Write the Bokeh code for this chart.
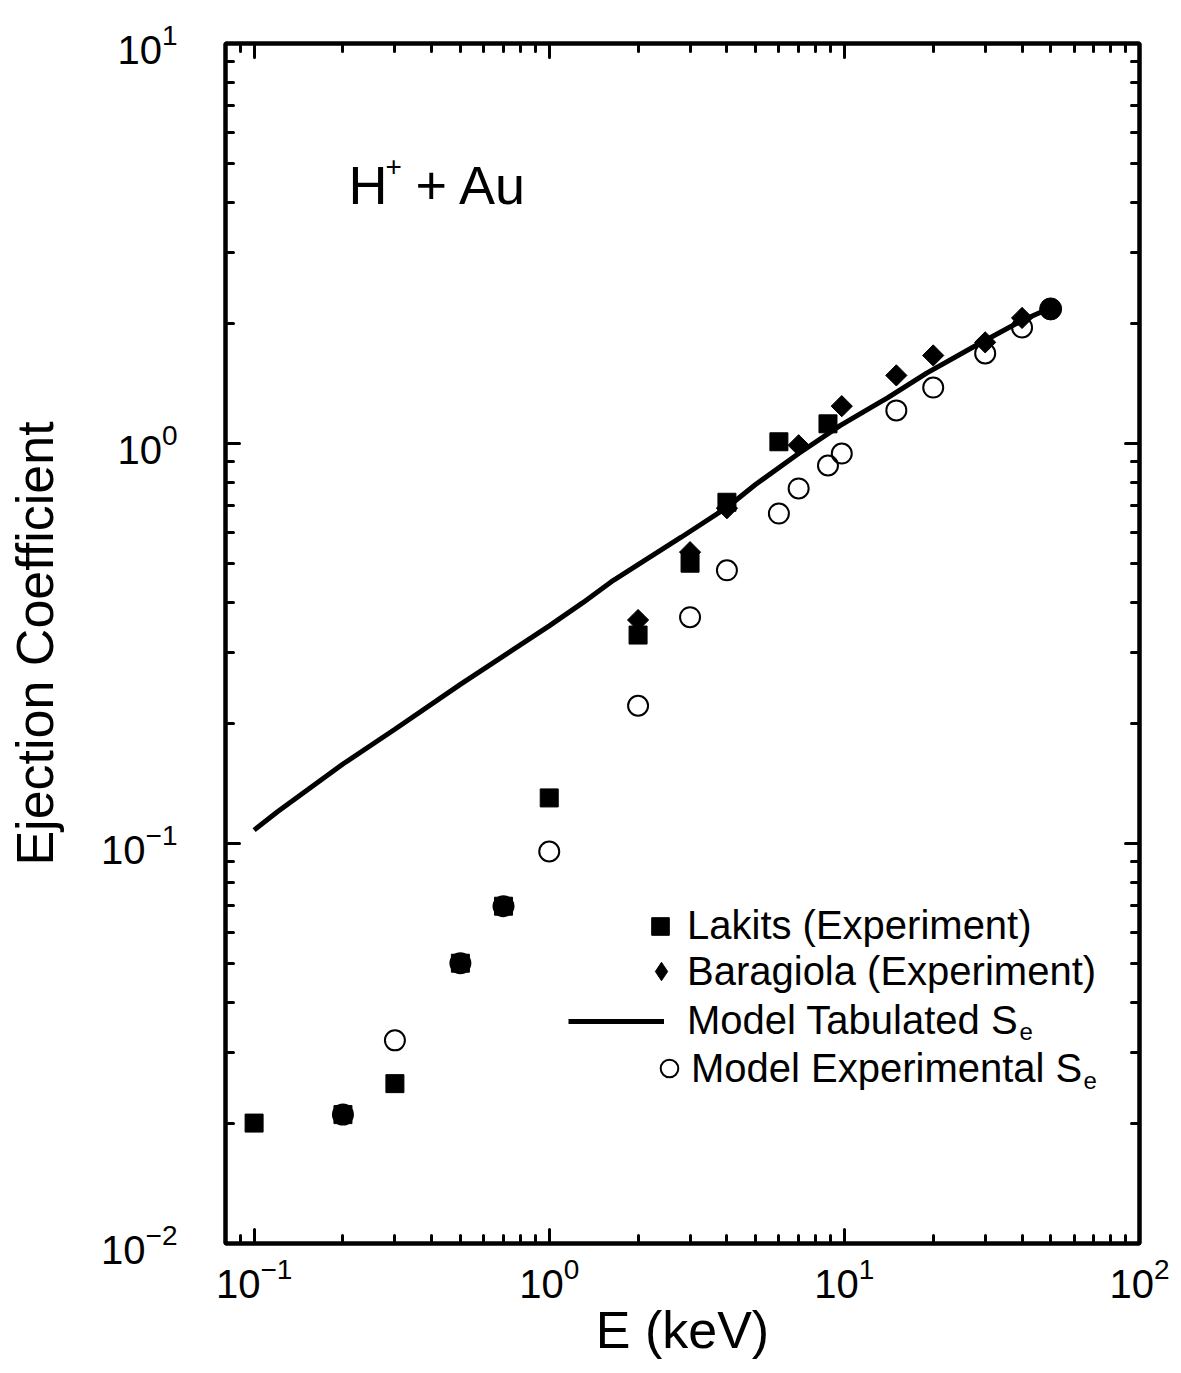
from bokeh.plotting import figure
from bokeh.models import (LogAxis, FixedTicker, Legend, LegendItem, Label,
                          LogTickFormatter, CustomJSTickFormatter)
from bokeh.embed import file_html
from bokeh.resources import INLINE

# ---- data ----
lakits_E = [0.1, 0.2, 0.3, 0.5, 0.7, 1.0, 2.0, 3.0, 4.0, 6.0, 8.8]
lakits_Y = [0.020, 0.021, 0.0251, 0.0502, 0.0697, 0.130, 0.332, 0.502, 0.713, 1.01, 1.12]

barag_E = [2.0, 3.0, 4.0, 7.0, 9.8, 15.0, 20.0, 30.0, 40.0]
barag_Y = [0.362, 0.535, 0.689, 0.99, 1.24, 1.48, 1.66, 1.79, 2.06]

tab_E = [0.1, 0.12, 0.2, 0.3, 0.5, 1.0, 1.3, 1.65, 2.0, 2.8, 4.0, 5.0, 7.0,
         9.7, 13.0, 14.0, 19.0, 28.0, 40.0, 49.0]
tab_Y = [0.108, 0.120, 0.158, 0.193, 0.25, 0.35, 0.40, 0.455, 0.498, 0.583,
         0.692, 0.79, 0.944, 1.11, 1.26, 1.30, 1.50, 1.76, 2.03, 2.17]

mexp_E = [0.2, 0.3, 0.5, 0.7, 1.0, 2.0, 3.0, 4.0, 6.0, 7.0, 8.8, 9.8, 15.0,
          20.0, 30.0, 40.0]
mexp_Y = [0.021, 0.0322, 0.0502, 0.0697, 0.0955, 0.221, 0.368, 0.482, 0.668,
          0.772, 0.881, 0.944, 1.21, 1.38, 1.68, 1.95]

end_E = [50.0]
end_Y = [2.17]

x_major = [0.1, 1, 10, 100]
y_major = [0.01, 0.1, 1, 10]

FONT = "Liberation Sans"

x_minor = [m * d for d in (0.01, 0.1, 1, 10) for m in range(2, 10) if 0.08 <= m * d <= 100]
y_minor = [m * d for d in (0.01, 0.1, 1) for m in range(2, 10)]

p = figure(x_axis_type="log", y_axis_type="log",
           x_range=(0.08, 100), y_range=(0.01, 10),
           frame_width=914, frame_height=1200,
           min_border_left=225, min_border_right=42,
           min_border_top=43, min_border_bottom=130,
           output_backend="svg", toolbar_location=None,
           background_fill_color="white", border_fill_color="white")
p.grid.visible = False
p.outline_line_color = "black"
p.outline_line_width = 4


def style_axis(ax, major, minor, labels=True):
    ax.ticker = FixedTicker(ticks=major, minor_ticks=minor)
    ax.axis_line_width = 4
    ax.axis_line_color = "black"
    ax.major_tick_in = 14
    ax.major_tick_out = 0
    ax.minor_tick_in = 8
    ax.minor_tick_out = 0
    ax.major_tick_line_width = 3
    ax.minor_tick_line_width = 3
    ax.major_tick_line_cap = "round"
    ax.minor_tick_line_cap = "round"
    if labels:
        ax.formatter = LogTickFormatter()
        ax.major_label_text_font = FONT
        ax.major_label_text_font_size = "40px"
        ax.major_label_text_color = "black"
        ax.axis_label_text_font = FONT
        ax.axis_label_text_font_size = "52px"
        ax.axis_label_text_font_style = "normal"
        ax.axis_label_text_color = "black"
    else:
        ax.formatter = CustomJSTickFormatter(code="return ''")
        ax.major_label_standoff = 0


style_axis(p.xaxis[0], x_major, x_minor)
style_axis(p.yaxis[0], y_major, y_minor)
p.xaxis[0].axis_label = "E (keV)"
p.yaxis[0].axis_label = "Ejection Coefficient"
p.xaxis[0].major_label_standoff = 13
p.xaxis[0].axis_label_standoff = 0
p.yaxis[0].major_label_standoff = 48
p.yaxis[0].axis_label_standoff = 34

top = LogAxis()
style_axis(top, x_major, x_minor, labels=False)
p.add_layout(top, "above")
right = LogAxis()
style_axis(right, y_major, y_minor, labels=False)
p.add_layout(right, "right")

r_tab = p.line(tab_E, tab_Y, line_width=5, line_color="black")
r_exp = p.scatter(mexp_E, mexp_Y, marker="circle", size=20, fill_color=None,
                  line_color="black", line_width=2)
r_lak = p.scatter(lakits_E, lakits_Y, marker="square", size=18,
                  fill_color="black", line_color="black")
# diamond glyph (hidden under the rotated squares) gives the legend its diamond
r_bar_key = p.scatter(barag_E, barag_Y, marker="diamond", size=19,
                      fill_color="black", line_color="black")
r_bar = p.scatter(barag_E, barag_Y, marker="square", angle=0.7854, size=15,
                  fill_color="black", line_color="black")
p.scatter(end_E, end_Y, marker="circle", size=22, fill_color="black",
          line_color="black")


def make_legend(label, rend, loc, gw, gh, standoff):
    leg = Legend(items=[LegendItem(label=label, renderers=[rend])],
                 location=loc, orientation="vertical",
                 label_text_font=FONT, label_text_font_size="40px",
                 label_text_color="black", padding=0, margin=0, spacing=0,
                 border_line_color=None, background_fill_alpha=0,
                 glyph_width=gw, glyph_height=gh, label_standoff=standoff,
                 label_height=40)
    p.add_layout(leg, "center")
    return leg


make_legend("Lakits (Experiment)", r_lak, (413, 295), 44, 44, 5)
make_legend("Baragiola (Experiment)", r_bar_key, (413, 249), 46, 46, 3)
make_legend("Model Tabulated S", r_tab, (343, 200), 96, 44, 23)
make_legend("Model Experimental S", r_exp, (422, 152), 44, 46, 0)

for sx, sy in ((794, 212), (858, 163)):
    p.add_layout(Label(x=sx, y=sy, x_units="screen", y_units="screen",
                       text="e", text_font=FONT, text_font_size="24px",
                       text_baseline="alphabetic", text_color="black"))

p.add_layout(Label(x=123, y=1059, x_units="screen", y_units="screen",
                   text="H", text_font=FONT, text_font_size="54px",
                   text_baseline="alphabetic", text_color="black"))
p.add_layout(Label(x=160, y=1077, x_units="screen", y_units="screen",
                   text="+", text_font=FONT, text_font_size="28px",
                   text_baseline="alphabetic", text_color="black"))
p.add_layout(Label(x=190, y=1059, x_units="screen", y_units="screen",
                   text="+ Au", text_font=FONT, text_font_size="54px",
                   text_baseline="alphabetic", text_color="black"))

open("out.html", "w").write(file_html(p, INLINE))
